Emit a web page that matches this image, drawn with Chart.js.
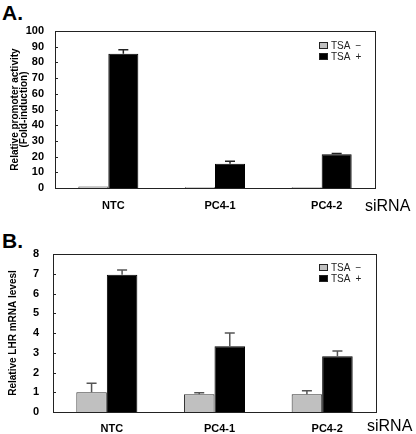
<!DOCTYPE html>
<html>
<head>
<meta charset="utf-8">
<script src="https://cdn.jsdelivr.net/npm/chart.js@4.4.1/dist/chart.umd.min.js"></script>
<style>
  html, body { margin: 0; padding: 0; background: #fff; }
  body { width: 416px; height: 434px; position: relative; overflow: hidden; font-family: "Liberation Sans", Arial, sans-serif; }
  .box { position: absolute; left: 0; width: 416px; }
  .panel { position: absolute; font-weight: bold; font-size: 21px; line-height: 21px; color: #000; }
  .sirna { position: absolute; font-size: 16px; line-height: 16px; color: #000; }
  .legend { position: absolute; font-size: 10px; line-height: 11px; color: #222; white-space: pre; }
  .legend .row { display: flex; align-items: center; height: 11px; }
  .legend .sw { width: 7px; height: 5px; border: 1px solid #222; margin-right: 3px; }
</style>
</head>
<body>
<div class="panel" style="left:2px; top:2px;">A.</div>
<div class="panel" style="left:2px; top:230px;">B.</div>
<div class="box" style="top:0; height:217px;"><canvas id="chartA"></canvas></div>
<div class="box" style="top:217px; height:217px;"><canvas id="chartB"></canvas></div>
<div class="sirna" style="left:365px; top:198px;">siRNA</div>
<div class="sirna" style="left:367px; top:418px;">siRNA</div>
<div class="legend" id="legA" style="left:319px; top:40px;"></div>
<div class="legend" id="legB" style="left:319px; top:262px;"></div>
<script>
// ---- data ----
const categories = ["NTC", "PC4-1", "PC4-2"];
const seriesNames = ["TSA \u2212", "TSA +"];
const seriesColors = ["#c0c0c0", "#000000"];

const promoterTSAminus = [1.0, 0.5, 0.5];
const promoterTSAplus = [85.5, 15.5, 21.5];
const promoterErrMinus = [0, 0, 0];
const promoterErrPlus = [2.5, 1.5, 0.5];
const promoterTicks = [0, 10, 20, 30, 40, 50, 60, 70, 80, 90, 100];

const lhrTSAminus = [1.0, 0.9, 0.9];
const lhrTSAplus = [6.95, 3.33, 2.82];
const lhrErrMinus = [0.45, 0.08, 0.18];
const lhrErrPlus = [0.24, 0.67, 0.27];
const lhrTicks = [0, 1, 2, 3, 4, 5, 6, 7, 8];

const FONT = '"Liberation Sans", Arial, sans-serif';

// legends
function buildLegend(id) {
  const el = document.getElementById(id);
  seriesNames.forEach((n, i) => {
    const row = document.createElement('div');
    row.className = 'row';
    const sw = document.createElement('span');
    sw.className = 'sw';
    sw.style.background = seriesColors[i];
    const tx = document.createElement('span');
    tx.textContent = n.replace(' ', '  ');
    row.appendChild(sw); row.appendChild(tx);
    el.appendChild(row);
  });
}
buildLegend('legA');
buildLegend('legB');

// plugin: error bars, frame, inner ticks
const decor = {
  id: 'decor',
  afterDatasetsDraw(chart, args, opts) {
    const ctx = chart.ctx;
    const ys = chart.scales.y;
    ctx.save();
    ctx.strokeStyle = opts.errColor;
    ctx.lineWidth = 1.5;
    opts.errors.forEach((errs, di) => {
      const meta = chart.getDatasetMeta(di);
      const data = chart.data.datasets[di].data;
      meta.data.forEach((el, j) => {
        const e = errs[j];
        if (!e) return;
        const yTop = ys.getPixelForValue(data[j] + e);
        const yBase = ys.getPixelForValue(data[j]);
        ctx.beginPath();
        ctx.moveTo(el.x, yBase);
        ctx.lineTo(el.x, yTop);
        ctx.moveTo(el.x - 5, yTop);
        ctx.lineTo(el.x + 5, yTop);
        ctx.stroke();
      });
    });
    ctx.restore();
  },
  afterDraw(chart) {
    const ctx = chart.ctx;
    const a = chart.chartArea;
    const ys = chart.scales.y;
    ctx.save();
    ctx.strokeStyle = '#222';
    ctx.lineWidth = 1;
    ctx.strokeRect(Math.round(a.left) + 0.5, Math.round(a.top) + 0.5, Math.round(a.right - a.left), Math.round(a.bottom - a.top));
    ys.ticks.forEach((t, i) => {
      const y = Math.round(ys.getPixelForTick(i)) + 0.5;
      ctx.beginPath();
      ctx.moveTo(a.left, y);
      ctx.lineTo(a.left + 3, y);
      ctx.stroke();
    });
    ctx.restore();
  }
};

function makeChart(id, cfg) {
  return new Chart(document.getElementById(id), {
    type: 'bar',
    data: {
      labels: categories,
      datasets: [
        { label: seriesNames[0], data: cfg.minus, backgroundColor: seriesColors[0], borderColor: '#333', borderWidth: 1, borderSkipped: 'bottom' },
        { label: seriesNames[1], data: cfg.plus, backgroundColor: seriesColors[1], borderColor: '#000', borderWidth: 1, borderSkipped: 'bottom' }
      ]
    },
    options: {
      responsive: true,
      maintainAspectRatio: false,
      animation: false,
      events: [],
      datasets: { bar: { categoryPercentage: cfg.catPct, barPercentage: 1.0 } },
      layout: { padding: { left: 0, right: cfg.padRight, top: cfg.padTop, bottom: 0 } },
      plugins: {
        legend: { display: false },
        tooltip: { enabled: false },
        decor: { errors: [cfg.errMinus, cfg.errPlus], errColor: cfg.errColor }
      },
      scales: {
        x: {
          grid: { display: false, drawTicks: false },
          border: { display: true, color: '#222', width: 1 },
          ticks: { color: '#000', font: { family: FONT, size: 11, weight: 'bold' }, padding: cfg.xPad, labelOffset: 5, maxRotation: 0 },
          afterFit(s) { s.height = cfg.xHeight; }
        },
        y: {
          min: 0, max: cfg.ticks[cfg.ticks.length - 1],
          afterBuildTicks(s) { s.ticks = cfg.ticks.map(v => ({ value: v })); },
          grid: { display: false, drawTicks: false },
          border: { display: true, color: '#222', width: 1 },
          ticks: { color: '#000', autoSkip: false, font: { family: FONT, size: 11, weight: 'bold' }, padding: cfg.yPad },
          title: {
            display: true, text: cfg.title, color: '#000',
            font: { family: FONT, size: 10, weight: 'bold', lineHeight: cfg.titleLH },
            padding: { top: cfg.titlePad, bottom: 0 }
          },
          afterFit(s) { s.width = cfg.yWidth; }
        }
      }
    },
    plugins: [decor]
  });
}

makeChart('chartA', {
  minus: promoterTSAminus, plus: promoterTSAplus,
  errMinus: promoterErrMinus, errPlus: promoterErrPlus,
  ticks: promoterTicks,
  title: ["Relative promoter activity", "(Fold-induction)"],
  titleLH: 0.9, titlePad: 10.5,
  yWidth: 55, xHeight: 29, padTop: 31, padRight: 41,
  xPad: 11, yPad: 11, catPct: 0.5625, errColor: '#222'
});

makeChart('chartB', {
  minus: lhrTSAminus, plus: lhrTSAplus,
  errMinus: lhrErrMinus, errPlus: lhrErrPlus,
  ticks: lhrTicks,
  title: "Relative LHR mRNA levesl",
  titleLH: 1, titlePad: 8,
  yWidth: 53, xHeight: 22, padTop: 37, padRight: 40,
  xPad: 10, yPad: 14, catPct: 0.567, errColor: '#555'
});
</script>
</body>
</html>
